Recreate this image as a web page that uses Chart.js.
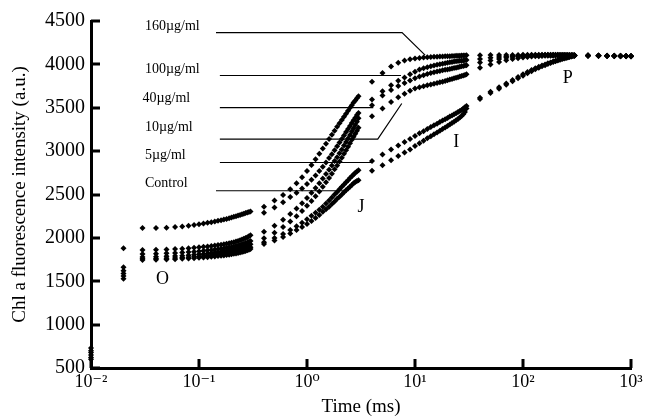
<!DOCTYPE html>
<html>
<head>
<meta charset="utf-8">
<script src="https://cdn.jsdelivr.net/npm/chart.js@4.4.1/dist/chart.umd.min.js"></script>
<style>
  html, body { margin: 0; padding: 0; background: #fff; }
  #wrap { width: 647px; height: 420px; }
</style>
</head>
<body>
<div id="wrap"><canvas id="ojip"></canvas></div>
<script>
// Sampling times of the fluorimeter (ms)
const timeMs = [
  0.01, 0.02, 0.03, 0.04, 0.05, 0.06, 0.07, 0.08, 0.09, 0.10,
  0.11, 0.12, 0.13, 0.14, 0.15, 0.16, 0.17, 0.18, 0.19, 0.20,
  0.21, 0.22, 0.23, 0.24, 0.25, 0.26, 0.27, 0.28, 0.29, 0.30,
  0.4, 0.5, 0.6, 0.7, 0.8, 0.9, 1.0, 1.1, 1.2, 1.3, 1.4, 1.5, 1.6, 1.7,
  1.8, 1.9, 2.0, 2.1, 2.2, 2.3, 2.4, 2.5, 2.6, 2.7, 2.8, 2.9, 3.0,
  4, 5, 6, 7, 8, 9, 10, 11, 12, 13, 14, 15, 16, 17,
  18, 19, 20, 21, 22, 23, 24, 25, 26, 27, 28, 29, 30,
  40, 50, 60, 70, 80, 90, 100, 110, 120, 130, 140, 150, 160, 170,
  180, 190, 200, 210, 220, 230, 240, 250, 260, 270, 280, 290, 300,
  400, 500, 600, 700, 800, 900, 1000
];

const seriesNames = ['160µg/ml', '100µg/ml', '40µg/ml', '10µg/ml', '5µg/ml', 'Control'];

const conc160 = [
  730, 1880, 2115, 2115, 2118, 2124, 2132, 2140, 2148, 2158,
  2166, 2173, 2180, 2188, 2196, 2204, 2211, 2219, 2227, 2235,
  2243, 2250, 2257, 2265, 2272, 2279, 2286, 2292, 2299, 2305,
  2360, 2430, 2495, 2560, 2630, 2700, 2770, 2840, 2905, 2970, 3030, 3085, 3140, 3190,
  3235, 3280, 3320, 3360, 3395, 3430, 3465, 3500, 3530, 3560, 3585, 3610, 3634,
  3799, 3900, 3975, 4020, 4045, 4060, 4068, 4074, 4078, 4082, 4085, 4087, 4089, 4091,
  4092, 4093, 4094, 4095, 4096, 4097, 4098, 4099, 4100, 4101, 4102, 4103, 4104,
  4106, 4107, 4108, 4108, 4109, 4109, 4110, 4110, 4110, 4110, 4110, 4110, 4110, 4110,
  4110, 4110, 4110, 4110, 4109, 4109, 4109, 4108, 4108, 4108, 4107, 4107, 4106,
  4104, 4102, 4100, 4099, 4098, 4097, 4096
];
const conc100 = [
  700, 1660, 1860, 1862, 1866, 1871, 1876, 1881, 1886, 1892,
  1897, 1902, 1907, 1912, 1917, 1922, 1927, 1932, 1938, 1944,
  1950, 1957, 1964, 1972, 1980, 1989, 1998, 2008, 2019, 2030,
  2290, 2350, 2410, 2470, 2520, 2570, 2620, 2670, 2720, 2770, 2820, 2870, 2920, 2965,
  3010, 3055, 3100, 3140, 3180, 3220, 3255, 3290, 3325, 3355, 3385, 3415, 3440,
  3596, 3690, 3760, 3810, 3850, 3885, 3915, 3940, 3955, 3968, 3978, 3987, 3995, 4002,
  4008, 4014, 4020, 4024, 4028, 4032, 4035, 4038, 4041, 4043, 4045, 4047, 4049,
  4062, 4075, 4085, 4091, 4096, 4099, 4101, 4103, 4104, 4105, 4106, 4106, 4107, 4107,
  4107, 4107, 4107, 4107, 4107, 4107, 4107, 4106, 4106, 4106, 4106, 4105, 4105,
  4103, 4101, 4100, 4099, 4098, 4097, 4096
];
const conc40 = [
  680, 1620, 1815, 1818, 1822, 1826, 1831, 1836, 1841, 1846,
  1851, 1856, 1861, 1866, 1871, 1876, 1881, 1886, 1891, 1896,
  1901, 1907, 1913, 1919, 1926, 1933, 1940, 1948, 1956, 1965,
  2070, 2140, 2210, 2275, 2340, 2400, 2460, 2520, 2575, 2630, 2685, 2735, 2785, 2835,
  2885, 2930, 2975, 3020, 3065, 3105, 3145, 3185, 3225, 3265, 3300, 3340, 3380,
  3530, 3640, 3705, 3750, 3785, 3815, 3840, 3860, 3876, 3890, 3901, 3910, 3918, 3925,
  3931, 3937, 3942, 3947, 3952, 3957, 3962, 3967, 3972, 3977, 3982, 3987, 3991,
  4022, 4045, 4062, 4075, 4084, 4090, 4095, 4098, 4100, 4102, 4103, 4104, 4105, 4105,
  4105, 4105, 4105, 4105, 4105, 4104, 4104, 4104, 4104, 4103, 4103, 4103, 4102,
  4101, 4100, 4099, 4098, 4097, 4096, 4095
];
const conc10 = [
  650, 1590, 1780, 1783, 1787, 1791, 1795, 1800, 1805, 1810,
  1815, 1820, 1825, 1830, 1835, 1840, 1845, 1850, 1855, 1860,
  1865, 1870, 1876, 1882, 1888, 1895, 1902, 1910, 1918, 1927,
  1995, 2060, 2125, 2190, 2250, 2310, 2370, 2425, 2480, 2535, 2590, 2640, 2690, 2740,
  2790, 2835, 2880, 2925, 2970, 3010, 3050, 3090, 3130, 3165, 3200, 3235, 3270,
  3403, 3492, 3565, 3620, 3660, 3695, 3722, 3735, 3747, 3758, 3767, 3776, 3785, 3793,
  3801, 3809, 3817, 3825, 3832, 3839, 3846, 3853, 3860, 3866, 3872, 3878, 3885,
  3962, 4000, 4028, 4048, 4062, 4072, 4080, 4086, 4090, 4093, 4095, 4097, 4098, 4099,
  4100, 4100, 4101, 4101, 4101, 4101, 4101, 4101, 4100, 4100, 4100, 4100, 4100,
  4099, 4098, 4097, 4096, 4095, 4094, 4093
];
const conc5 = [
  620, 1560, 1760, 1762, 1765, 1769, 1773, 1777, 1781, 1786,
  1790, 1795, 1799, 1804, 1808, 1813, 1817, 1822, 1827, 1832,
  1837, 1842, 1847, 1853, 1859, 1865, 1871, 1878, 1885, 1892,
  1950, 2000, 2045, 2090, 2135, 2175, 2215, 2255, 2290, 2325, 2360, 2395, 2430, 2465,
  2500, 2530, 2560, 2590, 2615, 2640, 2665, 2690, 2710, 2730, 2750, 2765, 2780,
  2885, 2960, 3020, 3065, 3105, 3140, 3175, 3205, 3230, 3255, 3278, 3298, 3317, 3335,
  3352, 3368, 3383, 3398, 3412, 3425, 3438, 3450, 3462, 3475, 3490, 3505, 3520,
  3615, 3685, 3735, 3780, 3820, 3855, 3885, 3912, 3935, 3955, 3972, 3987, 4000, 4012,
  4023, 4033, 4042, 4050, 4057, 4064, 4070, 4076, 4082, 4088, 4093, 4098, 4102,
  4100, 4099, 4098, 4097, 4096, 4095, 4094
];
const control = [
  600, 1530, 1745, 1747, 1750, 1754, 1758, 1762, 1766, 1770,
  1774, 1778, 1782, 1786, 1790, 1794, 1798, 1802, 1806, 1811,
  1816, 1821, 1826, 1832, 1838, 1844, 1850, 1857, 1864, 1872,
  1930, 1970, 2010, 2050, 2090, 2125, 2160, 2195, 2230, 2265, 2300, 2330, 2360, 2390,
  2420, 2450, 2475, 2500, 2525, 2550, 2570, 2590, 2610, 2630, 2645, 2655, 2665,
  2773, 2838, 2896, 2945, 2985, 3020, 3060, 3092, 3120, 3147, 3172, 3195, 3216, 3236,
  3255, 3273, 3290, 3307, 3323, 3339, 3355, 3371, 3388, 3405, 3425, 3450, 3490,
  3600, 3670, 3720, 3765, 3805, 3840, 3870, 3898, 3922, 3943, 3961, 3977, 3991, 4004,
  4016, 4027, 4037, 4046, 4054, 4061, 4068, 4074, 4080, 4086, 4091, 4096, 4100,
  4098, 4097, 4096, 4095, 4094, 4093, 4092
];

const xTickValues = [0.01, 0.1, 1, 10, 100, 1000];
const xTickLabels = ['10⁻²', '10⁻¹', '10⁰', '10¹', '10²', '10³'];
const phaseNames = ['O', 'J', 'I', 'P'];

// annotation placement, in data units (time ms, intensity)
const leaders = [
  { text: seriesNames[0], at: [0.0316, 4394], path: [[0.1436, 4367], [7.59, 4367], [12.4, 4106]] },
  { text: seriesNames[1], at: [0.0316, 3899], path: [[0.156, 3872], [7.41, 3872]] },
  { text: seriesNames[2], at: [0.0300, 3565], path: [[0.156, 3501], [4.11, 3501]] },
  { text: seriesNames[3], at: [0.0316, 3230], path: [[0.156, 3138], [4.52, 3138], [7.54, 3549]] },
  { text: seriesNames[4], at: [0.0316, 2908], path: [[0.156, 2869], [4.06, 2869]] },
  { text: seriesNames[5], at: [0.0316, 2585], path: [[0.1436, 2543], [2.17, 2543]] }
];
const phaseAt = [[0.0459, 1474], [3.16, 2301], [24.1, 3042], [260, 3780]];

const serif = '"Liberation Serif", "Times New Roman", "DejaVu Serif", serif';

const inwardTicks = {
  id: 'inwardTicks',
  afterDraw(chart) {
    const { ctx, chartArea: a, scales: { x, y } } = chart;
    ctx.save();
    ctx.fillStyle = '#000';
    y.ticks.forEach(t => {
      const py = Math.round(y.getPixelForValue(t.value));
      ctx.fillRect(a.left, py - 1.5, 9, 3);
    });
    x.ticks.forEach(t => {
      const px = Math.round(x.getPixelForValue(t.value));
      ctx.fillRect(px - 1.5, a.bottom - 9, 3, 9);
    });
    ctx.restore();
  }
};

const annotations = {
  id: 'annotations',
  afterDatasetsDraw(chart) {
    const { ctx, scales: { x, y } } = chart;
    ctx.save();
    ctx.strokeStyle = '#000';
    ctx.fillStyle = '#000';
    ctx.lineWidth = 1.2;
    ctx.textBaseline = 'alphabetic';
    ctx.font = '14px ' + serif;
    leaders.forEach(l => {
      ctx.beginPath();
      l.path.forEach(([t, v], i) => {
        const px = x.getPixelForValue(t), py = y.getPixelForValue(v);
        if (i === 0) ctx.moveTo(px, py); else ctx.lineTo(px, py);
      });
      ctx.stroke();
      ctx.textAlign = 'left';
      ctx.fillText(l.text, x.getPixelForValue(l.at[0]), y.getPixelForValue(l.at[1]));
    });
    ctx.font = '18px ' + serif;
    ctx.textAlign = 'center';
    phaseNames.forEach((n, i) => {
      ctx.fillText(n, x.getPixelForValue(phaseAt[i][0]), y.getPixelForValue(phaseAt[i][1]));
    });
    ctx.restore();
  }
};

const allSeries = [conc160, conc100, conc40, conc10, conc5, control];

new Chart(document.getElementById('ojip'), {
  type: 'scatter',
  data: {
    datasets: allSeries.map((ys, i) => ({
      label: seriesNames[i],
      data: ys.map((v, k) => ({ x: timeMs[k], y: v })),
      pointStyle: 'rectRot',
      pointRadius: 3,
      pointHoverRadius: 3,
      backgroundColor: '#000',
      borderColor: '#000',
      borderWidth: 0,
      showLine: false,
      clip: false
    }))
  },
  options: {
    responsive: true,
    maintainAspectRatio: false,
    animation: false,
    devicePixelRatio: 1,
    layout: { padding: { top: 21, right: 16, left: 0, bottom: 0 } },
    plugins: {
      legend: { display: false },
      tooltip: { enabled: false }
    },
    scales: {
      x: {
        type: 'logarithmic',
        min: 0.01,
        max: 1000,
        afterBuildTicks: s => { s.ticks = xTickValues.map(v => ({ value: v })); },
        afterFit: s => { s.height = 52; },
        grid: { display: false, drawTicks: false },
        border: { display: true, color: '#000', width: 3 },
        ticks: {
          autoSkip: false,
          maxRotation: 0,
          padding: 3,
          color: '#000',
          font: { family: serif, size: 18 },
          callback: (v, i) => xTickLabels[i]
        },
        title: {
          display: true,
          text: 'Time (ms)',
          color: '#000',
          font: { family: serif, size: 19 },
          padding: { top: 0, bottom: 2 }
        }
      },
      y: {
        type: 'linear',
        min: 500,
        max: 4500,
        afterFit: s => { s.width = 91; },
        grid: { display: false, drawTicks: false },
        border: { display: true, color: '#000', width: 3 },
        ticks: {
          stepSize: 500,
          padding: 6,
          color: '#000',
          font: { family: serif, size: 20 },
          callback: v => String(v)
        },
        title: {
          display: true,
          text: 'Chl a fluorescence intensity (a.u.)',
          color: '#000',
          font: { family: serif, size: 19 },
          padding: { top: 9, bottom: 0 }
        }
      }
    }
  },
  plugins: [inwardTicks, annotations]
});
</script>
</body>
</html>
